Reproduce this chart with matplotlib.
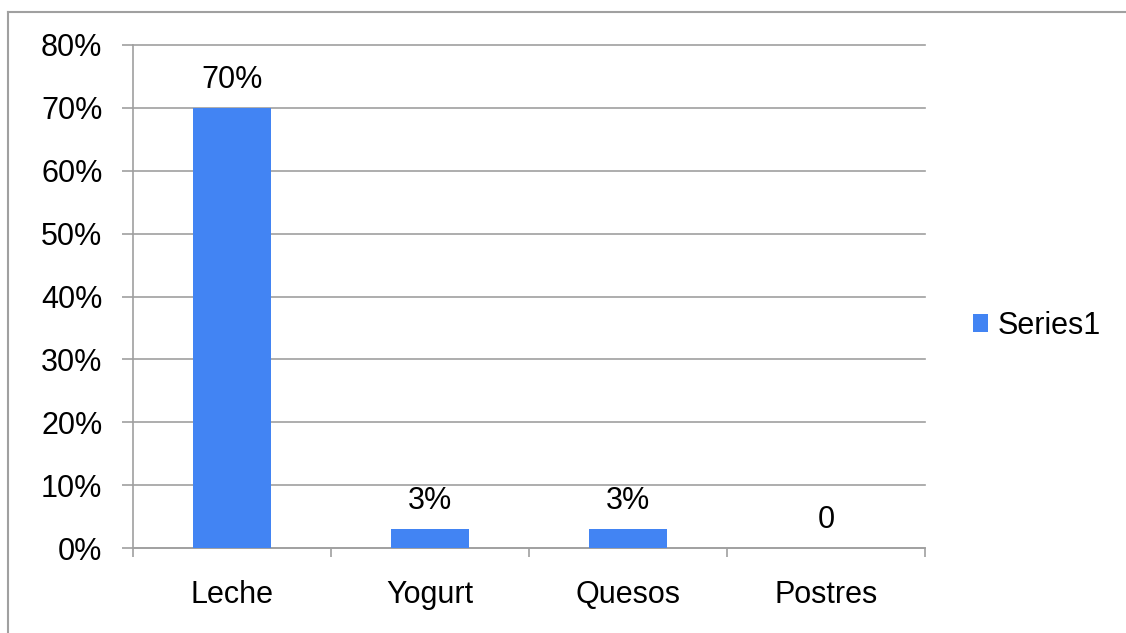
import numpy as np
import matplotlib
matplotlib.use('Agg')
import matplotlib.pyplot as plt
from matplotlib.lines import Line2D

#DATI

categorie = ['Leche', 'Yogurt', 'Quesos', 'Postres']
valori = [0.70, 0.03, 0.03, 0.0]
etichette = ['70%', '3%', '3%', '0']
serie = 'Series1'
yticks = [0, 0.1, 0.2, 0.3, 0.4, 0.5, 0.6, 0.7, 0.8]

#STILE

plt.rcParams['font.family'] = ['Liberation Sans', 'DejaVu Sans']
fs = 22
blu = '#4284F3'
grigio = '#a0a0a0'

fig = plt.figure(figsize=(11.26, 6.33), dpi=100)
ax = fig.add_axes([133/1126, 1-548/633, (925-133)/1126, (548-45)/633])

x = np.arange(len(categorie))
ax.bar(x, valori, width=0.394, color=blu, label=serie, zorder=3)

#etichette sopra le barre
for xi, v, t in zip(x, valori, etichette):
    ax.annotate(t, (xi, v), xytext=(0, 20), textcoords='offset pixels',
                ha='center', va='baseline', fontsize=fs)

ax.set_xlim(-0.5, 3.5)
ax.set_ylim(0, 0.8)
ax.set_yticks(yticks)
ax.set_yticklabels(['%d%%' % round(v*100) for v in yticks], fontsize=fs)
ax.set_xticks(x)
ax.set_xticklabels(categorie, fontsize=fs)
ax.set_xticks(np.arange(len(categorie)+1) - 0.5, minor=True)

ax.tick_params(axis='x', which='major', length=0, pad=23)
ax.tick_params(axis='x', which='minor', length=6.5, width=1.2, color=grigio, direction='out')
ax.tick_params(axis='y', length=8, width=1.2, color=grigio, pad=14)

ax.grid(axis='y', color=grigio, linewidth=1.2, zorder=0)
for l in ax.get_ygridlines():
    l.set_clip_on(False)

for s in ['top', 'right']:
    ax.spines[s].set_visible(False)
for s in ['left', 'bottom']:
    ax.spines[s].set_color(grigio)
    ax.spines[s].set_linewidth(1.2)

ax.legend(loc='center left', bbox_to_anchor=(973/1126, 1-326/633), bbox_transform=fig.transFigure,
          frameon=False, fontsize=fs, handlelength=0.5, handleheight=0.5,
          handletextpad=0.3, borderpad=0, borderaxespad=0)

#cornice
fig.add_artist(Line2D([8/1126, 8/1126], [0, 1-12/633], color=grigio, linewidth=1.5, transform=fig.transFigure))
fig.add_artist(Line2D([8/1126, 1], [1-12/633, 1-12/633], color=grigio, linewidth=1.5, transform=fig.transFigure))

fig.savefig('out.png', dpi=100)
